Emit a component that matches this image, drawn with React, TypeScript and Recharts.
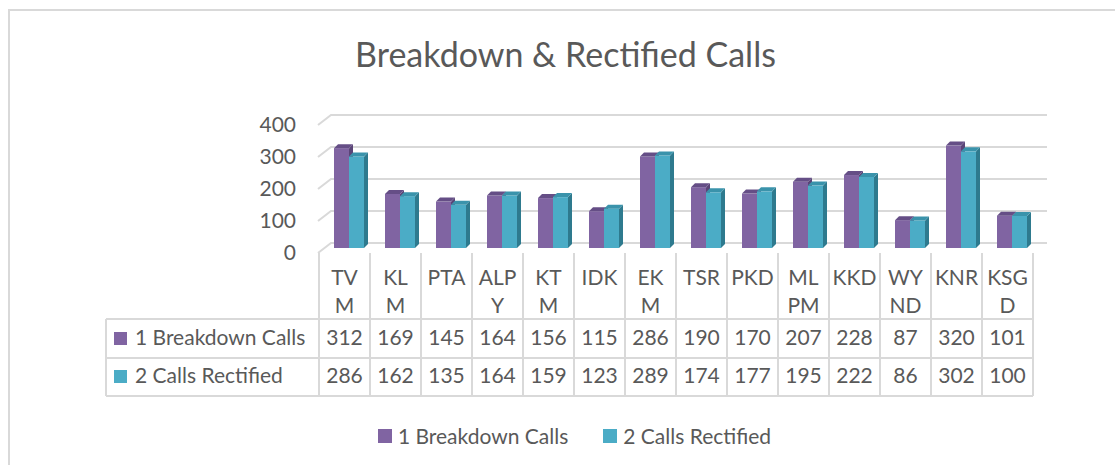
import { BarChart, Bar, XAxis, YAxis, CartesianGrid, Legend } from "recharts";

const categories = ["TVM", "KLM", "PTA", "ALPY", "KTM", "IDK", "EKM", "TSR", "PKD", "MLPM", "KKD", "WYND", "KNR", "KSGD"];
// category labels as they wrap in the table header
const tickLines = [
  ["TV", "M"], ["KL", "M"], ["PTA"], ["ALP", "Y"], ["KT", "M"], ["IDK"], ["EK", "M"],
  ["TSR"], ["PKD"], ["ML", "PM"], ["KKD"], ["WY", "ND"], ["KNR"], ["KSG", "D"],
];
const breakdownCalls = [312, 169, 145, 164, 156, 115, 286, 190, 170, 207, 228, 87, 320, 101];
const callsRectified = [286, 162, 135, 164, 159, 123, 289, 174, 177, 195, 222, 86, 302, 100];
const yTicks = [0, 100, 200, 300, 400];
const seriesNames = ["1 Breakdown Calls", "2 Calls Rectified"];

const W = 1115;
const H = 465;
const PLOT_L = 319;
const PLOT_R = 1033;
const PLOT_T = 120;
const PLOT_B = 248;
const Y_W = 60;
const X_H = 30;
const BAND = (PLOT_R - PLOT_L) / categories.length;

const TEXT = "#595959";
const LINE = "#d9d9d9";
const FS = 21;
const PURPLE = { front: "#8064a2", top: "#654e86", side: "#5a4577" };
const TEAL = { front: "#4bacc6", top: "#3a93ab", side: "#2e7a8e" };
const seriesColors = [PURPLE.front, TEAL.front];

const data = categories.map((name, i) => ({
  name,
  breakdown: breakdownCalls[i],
  rectified: callsRectified[i],
}));

const DEPTH = 4;
const SHIFT = 4;

function Bar3D(props: any) {
  const { x, y, width, height, colors } = props;
  if (height <= 0) return null;
  const x0 = x + SHIFT;
  const x1 = x0 + width;
  const b = y + height;
  return (
    <g>
      <rect x={x0} y={y} width={width} height={height} fill={colors.front} />
      <polygon
        points={`${x1},${y} ${x1 + DEPTH},${y - DEPTH} ${x1 + DEPTH},${b - DEPTH} ${x1},${b}`}
        fill={colors.side}
      />
      <polygon
        points={`${x0},${y} ${x1},${y} ${x1 + DEPTH},${y - DEPTH} ${x0 + DEPTH},${y - DEPTH}`}
        fill={colors.top}
      />
    </g>
  );
}

function gridLine(p: any) {
  const { x1, x2, y1 } = p;
  return (
    <polyline
      key={p.key ?? `g-${y1}`}
      points={`${x1 - 1},${y1 + 5} ${x1 + 12},${y1 - 5} ${x2 + 14},${y1 - 5}`}
      fill="none"
      stroke={LINE}
      strokeWidth={2}
    />
  );
}

function TableTick(p: any) {
  const { x, y, index } = p;
  const l = x - BAND / 2;
  const r = x + BAND / 2;
  const r1 = y + 71;
  const r2 = y + 110;
  const r3 = y + 148;
  const lines = tickLines[index] || [];
  const tx = { fill: TEXT, fontSize: FS, textAnchor: "middle" as const };
  const tableLeft = 106;
  return (
    <g>
      <line x1={l} y1={y + 5} x2={l} y2={r3} stroke={LINE} strokeWidth={2} />
      {index === categories.length - 1 && (
        <line x1={r} y1={y + 5} x2={r} y2={r3} stroke={LINE} strokeWidth={2} />
      )}
      {[r1, r2, r3].map((ry) => (
        <line key={ry} x1={l} y1={ry} x2={r} y2={ry} stroke={LINE} strokeWidth={2} />
      ))}
      {lines.map((t, i) => (
        <text key={i} x={x} y={y + 37 + i * 28} {...tx}>
          {t}
        </text>
      ))}
      <text x={x} y={y + 97} {...tx}>{breakdownCalls[index]}</text>
      <text x={x} y={y + 135} {...tx}>{callsRectified[index]}</text>
      {index === 0 && (
        <g>
          <line x1={tableLeft} y1={r1} x2={tableLeft} y2={r3} stroke={LINE} strokeWidth={2} />
          {[r1, r2, r3].map((ry) => (
            <line key={ry} x1={tableLeft} y1={ry} x2={l} y2={ry} stroke={LINE} strokeWidth={2} />
          ))}
          {seriesNames.map((s, i) => (
            <g key={s}>
              <rect x={tableLeft + 8} y={y + 84 + i * 38} width={13} height={13} fill={seriesColors[i]} />
              <text x={tableLeft + 29} y={y + 97 + i * 38} fill={TEXT} fontSize={FS}>
                {s}
              </text>
            </g>
          ))}
        </g>
      )}
    </g>
  );
}

function LegendContent(props: any) {
  const items = props.payload || [];
  return (
    <div style={{ display: "flex", justifyContent: "center", paddingLeft: 34, gap: 35 }}>
      {items.map((it: any) => (
        <div key={it.value} style={{ display: "flex", alignItems: "center", gap: 6 }}>
          <span style={{ width: 14, height: 14, background: it.color, display: "inline-block" }} />
          <span style={{ color: TEXT, fontSize: FS, lineHeight: "24px" }}>{it.value}</span>
        </div>
      ))}
    </div>
  );
}

export default function App() {
  return (
    <div
      style={{
        position: "absolute",
        left: 0,
        top: 0,
        width: W,
        height: H,
        overflow: "hidden",
        background: "#fff",
        fontFamily: "Lato, 'Liberation Sans', sans-serif",
      }}
    >
      <div
        style={{
          position: "absolute",
          left: 8,
          top: 9,
          width: 1200,
          height: 600,
          borderTop: `2px solid ${LINE}`,
          borderLeft: `2px solid ${LINE}`,
        }}
      />
      <div
        style={{
          position: "absolute",
          left: 0,
          top: 34,
          width: 1131,
          textAlign: "center",
          fontSize: 34,
          color: TEXT,
          lineHeight: "40px",
        }}
      >
        Breakdown &amp; Rectified Calls
      </div>
      <div style={{ position: "absolute", left: 0, top: 0 }}>
        <BarChart
          width={W}
          height={H}
          data={data}
          barGap={0}
          margin={{ top: PLOT_T, right: W - PLOT_R, bottom: H - PLOT_B - X_H, left: PLOT_L - Y_W }}
        >
          <CartesianGrid horizontal={gridLine} vertical={false} />
          <XAxis
            dataKey="name"
            height={X_H}
            axisLine={false}
            tickLine={false}
            tickSize={0}
            tickMargin={0}
            interval={0}
            tick={<TableTick />}
          />
          <YAxis
            width={Y_W}
            domain={[0, 400]}
            ticks={yTicks}
            axisLine={false}
            tickLine={false}
            tickSize={0}
            tickMargin={23}
            tick={{ fill: TEXT, fontSize: FS, dy: 5 }}
          />
          <Legend
            layout="horizontal"
            verticalAlign="middle"
            align="center"
            width={W}
            wrapperStyle={{ top: 424, left: 0, width: W }}
            content={<LegendContent />}
          />
          <Bar
            dataKey="breakdown"
            name={seriesNames[0]}
            fill={PURPLE.front}
            barSize={15}
            isAnimationActive={false}
            shape={(p: any) => <Bar3D {...p} colors={PURPLE} />}
          />
          <Bar
            dataKey="rectified"
            name={seriesNames[1]}
            fill={TEAL.front}
            barSize={15}
            isAnimationActive={false}
            shape={(p: any) => <Bar3D {...p} colors={TEAL} />}
          />
        </BarChart>
      </div>
    </div>
  );
}
